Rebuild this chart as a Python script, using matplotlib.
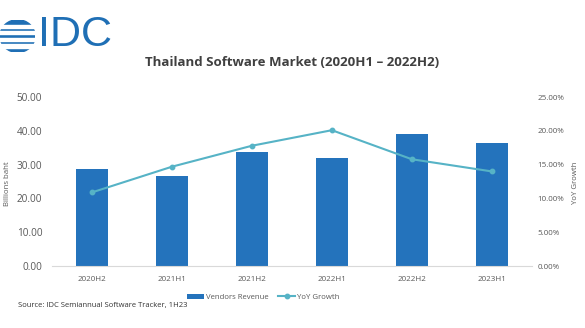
import numpy as np
import matplotlib.pyplot as plt
from matplotlib.patches import Circle, Rectangle

# data
periods = ["2020H2", "2021H1", "2021H2", "2022H1", "2022H2", "2023H1"]
revenue = [28.6, 26.5, 33.7, 32.0, 39.0, 36.5]        # billions baht
yoy_growth = [10.9, 14.7, 17.8, 20.1, 15.8, 14.0]     # percent

bar_color = "#2473BC"
line_color = "#56B3C6"
text_color = "#595959"

plt.rcParams["font.family"] = ["Open Sans", "DejaVu Sans"]

fig = plt.figure(figsize=(5.85, 3.28), dpi=100)
ax = fig.add_axes([0.089, 0.189, 0.820, 0.515])
ax2 = ax.twinx()

x = np.arange(len(periods))
bars = ax.bar(x, revenue, width=0.4, color=bar_color, label="Vendors Revenue", zorder=2)
line, = ax2.plot(x, yoy_growth, color=line_color, lw=1.5, marker="o", ms=3.2,
                 label="YoY Growth", zorder=3)

ax.set_xlim(-0.5, len(periods) - 0.5)
ax.set_ylim(0, 50)
ax2.set_ylim(0, 25)
ax.set_yticks(np.arange(0, 51, 10))
ax.set_yticklabels([f"{v:.2f}" for v in np.arange(0, 51, 10)])
ax2.set_yticks(np.arange(0, 26, 5))
ax2.set_yticklabels([f"{v:.2f}%" for v in np.arange(0, 26, 5)])
ax.set_xticks(x)
ax.set_xticklabels(periods)

# line above bars
ax.set_zorder(1)
ax2.set_zorder(2)
ax.patch.set_visible(False)

for a in (ax, ax2):
    for s in a.spines.values():
        s.set_visible(False)
    a.tick_params(length=0, colors=text_color)
ax.spines["bottom"].set_visible(True)
ax.spines["bottom"].set_color("#d9d9d9")
ax.tick_params(axis="y", labelsize=7.2, pad=7)
ax.tick_params(axis="x", labelsize=5.8, pad=7)
ax2.tick_params(axis="y", labelsize=5.8, pad=4)

ax.set_ylabel("Billions baht", fontsize=5.6, color=text_color)
ax2.set_ylabel("YoY Growth", fontsize=5.6, color=text_color)
ax.yaxis.set_label_coords(-0.085, 0.49)
ax2.yaxis.set_label_coords(1.083, 0.49)

fig.text(0.5, 0.808, "Thailand Software Market (2020H1 \u2013 2022H2)", ha="center",
         va="center", fontsize=9.5, fontweight="bold", color="#404040")

fig.legend(handles=[bars, line], loc="center", bbox_to_anchor=(0.45, 0.093),
           ncol=2, frameon=False, fontsize=5.6, labelcolor=text_color,
           handlelength=2.2, handleheight=0.6, columnspacing=1.2, handletextpad=0.2)

fig.text(0.03, 0.07, "Source: IDC Semiannual Software Tracker, 1H23", fontsize=5.5,
         color="#333333", va="center")

# IDC logo: striped globe + letters
logo = fig.add_axes([0.0, 0.84, 0.06, 0.1])
logo.set_xlim(-1, 1)
logo.set_ylim(-1, 1)
logo.axis("off")
logo.add_patch(Circle((0, 0), 1, color="#1F6FB5"))
for yy in np.linspace(-0.6, 0.6, 4):
    logo.add_patch(Rectangle((-1.1, yy - 0.1), 2.2, 0.2, color="white"))
fig.text(0.065, 0.892, "IDC", fontsize=31, color="#1F6FB5", va="center",
         family=["Liberation Sans", "DejaVu Sans"])

fig.savefig("out.png", dpi=100, facecolor="white")
